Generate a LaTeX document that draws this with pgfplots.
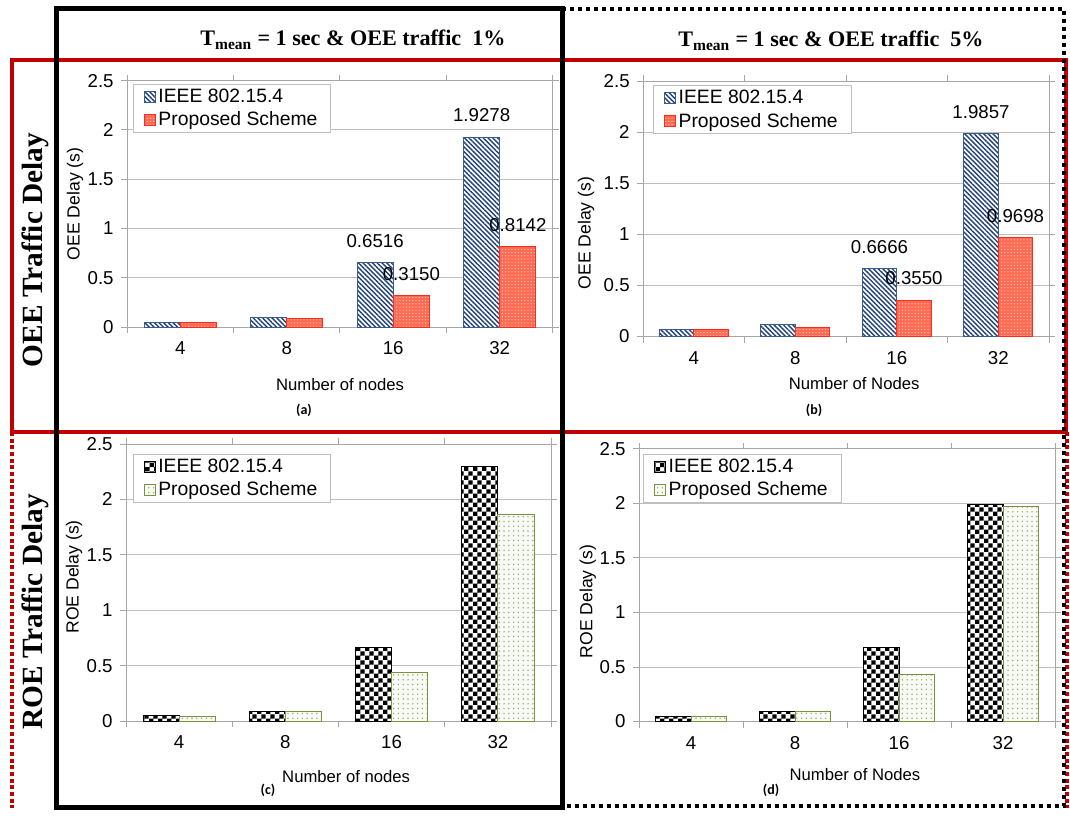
\documentclass[border=0pt]{standalone}
\usepackage{pgfplots}
\pgfplotsset{compat=1.18}
\usepackage{fontspec}
\setmainfont{Liberation Sans}
\newfontfamily\timesfont{Liberation Serif}
\newfontfamily\calibrifont{Carlito}
\usetikzlibrary{patterns,patterns.meta}

\definecolor{gridgray}{HTML}{BFBFBF}
\definecolor{axisgray}{HTML}{A6A6A6}
\definecolor{legendgray}{HTML}{BFBFBF}
\definecolor{ieeeblue}{HTML}{1F3F78}
\definecolor{ieeeedge}{HTML}{385D8A}
\definecolor{propred}{HTML}{FF6A52}
\definecolor{propedge}{HTML}{FF2A1A}
\definecolor{olivec}{HTML}{77933C}
\definecolor{olivedot}{HTML}{9FA56C}
\definecolor{framered}{HTML}{C00000}

\pgfdeclarepatternformonly{bigchecker}{\pgfqpoint{0pt}{0pt}}{\pgfqpoint{6.6pt}{6.6pt}}{\pgfqpoint{6.6pt}{6.6pt}}{%
  \pgfpathrectangle{\pgfqpoint{0pt}{0pt}}{\pgfqpoint{3.3pt}{3.3pt}}%
  \pgfpathrectangle{\pgfqpoint{3.3pt}{3.3pt}}{\pgfqpoint{3.3pt}{3.3pt}}%
  \pgfusepath{fill}}

\pgfplotsset{
  legimg/.style={legend image code/.code={\draw[##1] (0pt,-4pt) rectangle (8pt,4pt);}},
  ieeeA/.style={draw=ieeeedge, line width=0.75pt, fill=white,
    postaction={pattern={Lines[angle=-45,distance=2.5pt,line width=1.05pt]}, pattern color=ieeeblue}, legimg},
  propA/.style={draw=propedge, line width=0.75pt, fill=propred,
    postaction={pattern={Dots[distance=2.4pt,radius=0.5pt]}, pattern color=white!65!propred}, legimg},
  ieeeC/.style={draw=black, line width=0.75pt, fill=white,
    postaction={pattern=bigchecker, pattern color=black}, legimg},
  propC/.style={draw=olivec, line width=0.75pt, fill=white!95!olivec,
    postaction={pattern={Dots[distance=3.6pt,radius=0.6pt]}, pattern color=olivedot}, legimg},
  lbl/.style={point meta=explicit symbolic, nodes near coords,
    nodes near coords style={font=\fontsize{14}{15}\selectfont, anchor=south, inner sep=0pt, yshift=11pt, text=black}},
  panel/.style={
    scale only axis, anchor=south west,
    ybar=0pt, bar width=0.34,
    xmin=-0.5, xmax=3.5, ymin=0, ymax=2.5,
    ytick={0,0.5,1,1.5,2,2.5},
    xtick={0,1,2,3}, xticklabels={4,8,16,32},
    minor xtick={-0.5,0.5,1.5,2.5,3.5},
    ymajorgrids, grid style={draw=gridgray, line width=0.75pt},
    axis line style={draw=axisgray, line width=0.75pt},
    tick align=outside, major tick length=4.5pt, minor tick length=4.5pt,
    tick style={draw=axisgray, line width=0.75pt},
    major x tick style={draw=none},
    /pgf/number format/assume math mode=true,
    ticklabel style={font=\fontsize{14}{15}\selectfont},
    yticklabel style={/pgf/number format/fixed, xshift=-2pt},
    xticklabel style={yshift=-3pt},
    xlabel style={font=\fontsize{12.5}{14}\selectfont, anchor=center},
    ylabel style={font=\fontsize{13.2}{14}\selectfont, anchor=center},
    legend style={draw=legendgray, line width=0.75pt, fill=white,
      font=\fontsize{14.5}{16}\selectfont, anchor=north west,
      inner xsep=8pt, inner ysep=1.5pt, row sep=1.5pt,
      nodes={inner sep=2pt}, cells={anchor=west}},
  },
}

\begin{document}
\begin{tikzpicture}[x=0.75pt,y=0.75pt]
\useasboundingbox (0,0) rectangle (1070,819);

% (a)
\begin{axis}[panel, at={(95.25pt,369pt)}, width=319.5pt, height=184.7pt,
  xlabel={Number of nodes}, ylabel={OEE Delay (s)},
  xlabel style={at={(axis description cs:0.5,-0.235)}},
  ylabel style={at={(axis description cs:-0.122,0.5)}},
  legend style={at={(0.014,0.987)}}]
\addplot[ieeeA, lbl] coordinates {(0,0.05) [] (1,0.095) [] (2,0.6516) [0.6516] (3,1.9278) [1.9278]};
\addplot[propA, lbl] coordinates {(0,0.05) [] (1,0.085) [] (2,0.3150) [0.3150] (3,0.8142) [0.8142]};
\legend{IEEE 802.15.4, Proposed Scheme}
\end{axis}

% (b)
\begin{axis}[panel, at={(482.25pt,361.875pt)}, width=304.5pt, height=191.6pt,
  xlabel={Number of Nodes}, ylabel={OEE Delay (s)},
  xlabel style={at={(axis description cs:0.52,-0.186)}},
  ylabel style={at={(axis description cs:-0.14,0.405)}},
  legend style={at={(0.025,0.984)}}]
\addplot[ieeeA, lbl] coordinates {(0,0.065) [] (1,0.115) [] (2,0.6666) [0.6666] (3,1.9857) [1.9857]};
\addplot[propA, lbl] coordinates {(0,0.065) [] (1,0.09) [] (2,0.3550) [0.3550] (3,0.9698) [0.9698]};
\legend{IEEE 802.15.4, Proposed Scheme}
\end{axis}

% (c)
\begin{axis}[panel, at={(94.5pt,73.5pt)}, width=318.75pt, height=207.75pt,
  xlabel={Number of nodes}, ylabel={ROE Delay (s)},
  xlabel style={at={(axis description cs:0.518,-0.199)}},
  ylabel style={at={(axis description cs:-0.122,0.52)}},
  legend style={at={(0.016,0.964)}}]
\addplot[ieeeC] coordinates {(0,0.05) (1,0.09) (2,0.66) (3,2.3)};
\addplot[propC] coordinates {(0,0.04) (1,0.09) (2,0.435) (3,1.86)};
\legend{IEEE 802.15.4, Proposed Scheme}
\end{axis}

% (d)
\begin{axis}[panel, at={(479.25pt,73.125pt)}, width=312pt, height=204.4pt,
  xlabel={Number of Nodes}, ylabel={ROE Delay (s)},
  xlabel style={at={(axis description cs:0.519,-0.196)}},
  ylabel style={at={(axis description cs:-0.123,0.44)}},
  legend style={at={(0.01,0.982)}}]
\addplot[ieeeC] coordinates {(0,0.05) (1,0.095) (2,0.68) (3,1.99)};
\addplot[propC] coordinates {(0,0.05) (1,0.095) (2,0.435) (3,1.97)};
\legend{IEEE 802.15.4, Proposed Scheme}
\end{axis}

% frames
\draw[framered, line width=3pt] (12,759) rectangle (1066,387);
\draw[framered, line width=3pt, dash pattern=on 3pt off 2pt] (12,387) -- (12,11);
\draw[framered, line width=3pt, dash pattern=on 3pt off 2pt] (1067,387) -- (1067,11);
\draw[black, line width=3.75pt] (56,810) rectangle (562,12);
\draw[black, line width=3pt, dash pattern=on 3pt off 3pt] (562,810) -- (1064,810) -- (1064,13) -- (562,13);

% titles
\node[anchor=base, font=\timesfont\bfseries\fontsize{16.6}{19}\selectfont] at (353,773)
  {T\textsubscript{mean} = 1 sec \& OEE traffic\ \ 1\%};
\node[anchor=base, font=\timesfont\bfseries\fontsize{16.6}{19}\selectfont] at (831,772)
  {T\textsubscript{mean} = 1 sec \& OEE traffic\ \ 5\%};
\node[rotate=90, font=\timesfont\bfseries\fontsize{22}{24}\selectfont] at (35,569) {OEE Traffic Delay};
\node[rotate=90, font=\timesfont\bfseries\fontsize{22}{24}\selectfont] at (35,207) {ROE Traffic Delay};

% sub labels
\node[font=\calibrifont\bfseries\fontsize{10.5}{12}\selectfont] at (304,409) {(a)};
\node[font=\calibrifont\bfseries\fontsize{10.5}{12}\selectfont] at (814,409) {(b)};
\node[font=\calibrifont\bfseries\fontsize{10.5}{12}\selectfont] at (268,29) {(c)};
\node[font=\calibrifont\bfseries\fontsize{10.5}{12}\selectfont] at (771,29) {(d)};
\end{tikzpicture}
\end{document}
